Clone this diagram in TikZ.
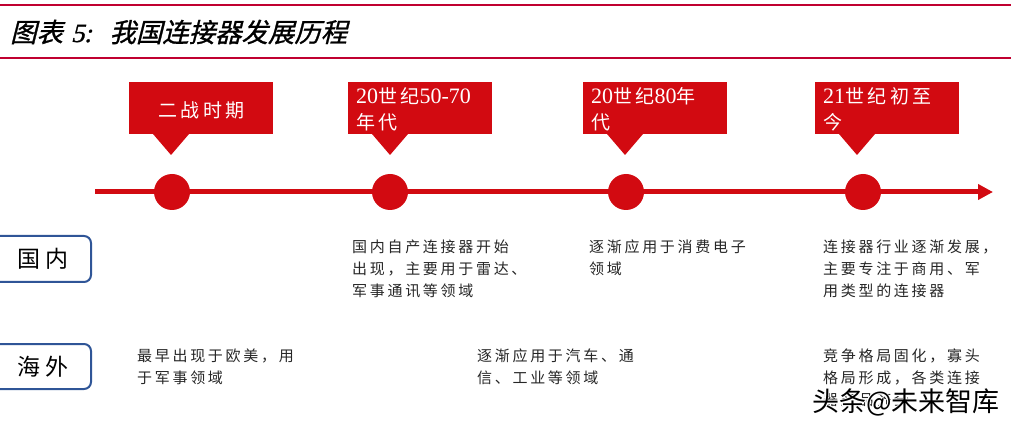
\documentclass[tikz,border=0pt]{standalone}
\usepackage{fontspec}
\usepackage{contour}
\contourlength{0.7pt}
\setmainfont{Liberation Serif}
\newfontfamily\cjk[LetterSpace=18]{Noto Sans CJK SC}
\newfontfamily\cjkhead[FakeSlant=0.25,FakeBold=1]{Noto Sans CJK SC}
\newfontfamily\lathead[FakeSlant=0.25,FakeBold=1]{Liberation Serif}
\newfontfamily\cjkmark{Noto Sans CJK SC}
\newcommand{\yr}[1]{{\rmfamily\fontsize{22}{26}\selectfont #1}}
\usetikzlibrary{positioning,arrows.meta}
\definecolor{rulered}{HTML}{C00030}
\definecolor{markred}{HTML}{D20A11}
\definecolor{sideblue}{HTML}{2F5597}
\tikzset{
x=1pt,y=-1pt,
stage/.style={rectangle,fill=markred,minimum width=144pt,minimum height=52pt,inner sep=0pt},
stagetext/.style={text=white,font=\cjk\fontsize{19}{26}\selectfont,align=left,anchor=north west,inner sep=0pt},
dot/.style={circle,fill=markred,minimum size=36pt,inner sep=0pt},
side/.style={draw=sideblue,line width=2pt,rounded corners=7pt,fill=white},
sidetext/.style={font=\cjk\fontsize{23}{26}\selectfont,inner sep=0pt},
note/.style={font=\cjk\fontsize{15}{22}\selectfont,align=left,anchor=north west,inner sep=0pt,text=black!85},
}
\begin{document}
\begin{tikzpicture}
\useasboundingbox (0,0) rectangle (1011,427);
\clip (0,0) rectangle (1011,427);
% title
\draw[rulered,line width=2pt] (0,5) -- (1011,5);
\draw[rulered,line width=2pt] (0,58) -- (1011,58);
\node (title) at (10,32) [anchor=west,font=\fontsize{26.4}{28}\selectfont,inner sep=0pt]
{\cjkhead 图表\hspace{8pt}{\lathead 5:}\hspace{18pt}我国连接器发展历程};
% time line
\coordinate (lstart) at (95,192);
\coordinate (lend) at (993,192);
\draw[markred,line width=5pt,-{Triangle[length=15pt,width=15pt]}] (lstart) -- (lend);
\node[dot] (d1) at (172,192) {};
\node[dot] (d2) at (390,192) {};
\node[dot] (d3) at (626,192) {};
\node[dot] (d4) at (863,192) {};
% stages
\node[stage] (s1) at (201,108) {};
\node[stage] (s2) at (420,108) {};
\node[stage] (s3) at (655,108) {};
\node[stage] (s4) at (887,108) {};
\fill[markred] (153,134) -- (171,155) -- (189,134) -- cycle;
\fill[markred] (372,134) -- (390,155) -- (408,134) -- cycle;
\fill[markred] (607,134) -- (625,155) -- (643,134) -- cycle;
\fill[markred] (839,134) -- (857,155) -- (875,134) -- cycle;
\node[stagetext] (t1) at (158,101) {二战时期};
\node[stagetext] (t2) at (356,87) {\yr{20}世纪\yr{50-70}\\年代};
\node[stagetext] (t3) at (591,87) {\yr{20}世纪\yr{80}年\\代};
\node[stagetext] (t4) at (823,87) {\yr{21}世纪初至\\今};
% sides
\draw[side] (-12,236) rectangle (91,282);
\draw[side] (-12,344) rectangle (91,389);
\node[sidetext] (home) at (43,259) {国内};
\node[sidetext] (abroad) at (43,367) {海外};
% notes
\node[note] (n1) at (352,240) {国内自产连接器开始\\出现，主要用于雷达、\\军事通讯等领域};
\node[note] (n2) at (589,240) {逐渐应用于消费电子\\领域};
\node[note] (n3) at (823,240) {连接器行业逐渐发展，\\主要专注于商用、军\\用类型的连接器};
\node[note] (n4) at (137,349) {最早出现于欧美，用\\于军事领域};
\node[note] (n5) at (477,349) {逐渐应用于汽车、通\\信、工业等领域};
% last line of n6 is unreadable under the watermark: wording is a guess
\node[note] (n6) at (823,349) {竞争格局固化，寡头\\格局形成，各类连接\\器产品齐全};
% watermark
\node (mark) at (906,403) [font=\cjkmark\fontsize{27}{28}\selectfont,inner sep=0pt]
{\contour{white}{头条@未来智库}};
\end{tikzpicture}
\end{document}
